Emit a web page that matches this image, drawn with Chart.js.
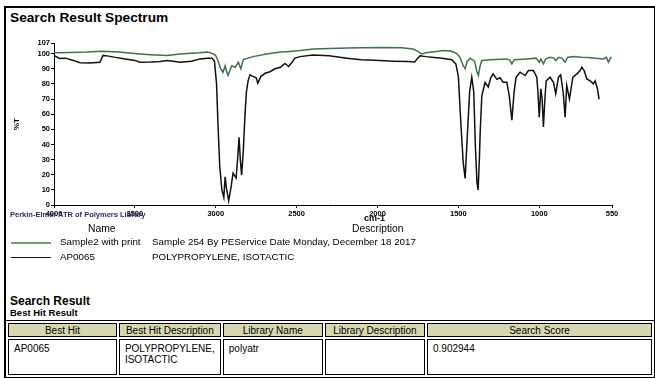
<!DOCTYPE html>
<html>
<head>
<meta charset="utf-8">
<script src="https://cdn.jsdelivr.net/npm/chart.js@4"></script>
<style>
  body { margin: 0; width: 655px; height: 378px; overflow: hidden; background: #fff;
         font-family: "Liberation Sans", Arial, sans-serif; color: #000; }
  #frame { position: absolute; left: 4px; top: 6px; width: 648px; height: 380px;
           border: 2px solid #000; border-bottom: none; }
  .t { position: absolute; white-space: nowrap; }
  #chart { position: absolute; left: 0; top: 0; }
  table { position: absolute; left: 5px; top: 320px; border-collapse: separate; border-spacing: 2px;
          border: 1px solid #000; font-size: 10px; }
  th { background: #d8d7b2; border: 1px solid #000; font-weight: normal; padding: 0 2px; height: 12px; }
  td { border: 1px solid #000; padding: 3px 5px; vertical-align: top; height: 28px; }
</style>
</head>
<body>
<div id="frame"></div>
<div class="t" style="left:10px;top:10px;font-weight:bold;font-size:13.7px;">Search Result Spectrum</div>
<canvas id="chart" width="655" height="230"></canvas>
<div class="t" style="left:10px;top:210px;font-weight:bold;font-size:7.5px;color:#2a2a6e;">Perkin-Elmer ATR of Polymers Library</div>
<div class="t" style="left:364px;top:213px;font-weight:bold;font-size:9px;">cm-1</div>
<div class="t" style="left:88px;top:223px;font-size:10.3px;">Name</div>
<div class="t" style="left:352px;top:223px;font-size:10.3px;">Description</div>
<div class="t" style="left:11px;top:242px;width:40px;height:2px;background:#7d9a7d;"></div>
<div class="t" style="left:60px;top:236px;font-size:9.8px;">Sample2 with print</div>
<div class="t" style="left:152px;top:236px;font-size:9.8px;">Sample 254 By PEService Date Monday, December 18 2017</div>
<div class="t" style="left:11px;top:257px;width:40px;height:1px;background:#111;"></div>
<div class="t" style="left:60px;top:251px;font-size:9.8px;">AP0065</div>
<div class="t" style="left:152px;top:251px;font-size:9.8px;">POLYPROPYLENE, ISOTACTIC</div>
<div class="t" style="left:10px;top:294px;font-weight:bold;font-size:12px;">Search Result</div>
<div class="t" style="left:10px;top:307px;font-weight:bold;font-size:9.5px;">Best Hit Result</div>
<table>
  <tr><th style="width:104px">Best Hit</th><th style="width:95px">Best Hit Description</th>
      <th style="width:95px">Library Name</th><th style="width:95px">Library Description</th>
      <th style="width:222px">Search Score</th></tr>
  <tr><td>AP0065</td><td>POLYPROPYLENE,<br>ISOTACTIC</td><td>polyatr</td><td></td><td>0.902944</td></tr>
</table>
<script>
// axis ticks
const xTicks = [4000, 3500, 3000, 2500, 2000, 1500, 1000, 550];
const yTicks = [0, 10, 20, 30, 40, 50, 60, 70, 80, 90, 100, 107];

// Sample2 with print (green)
const sampleWn = [4000, 3900, 3800, 3700, 3600, 3468, 3400, 3301, 3221, 3100, 3050, 3017, 3000, 2985, 2970,
  2955, 2942, 2935, 2924, 2912, 2901, 2880, 2860, 2845, 2829, 2800, 2769, 2685, 2600, 2561, 2479, 2398,
  2188, 1984, 1850, 1779, 1750, 1726, 1700, 1675, 1620, 1594, 1540, 1508, 1490, 1470, 1458, 1445, 1427,
  1400, 1385, 1376, 1365, 1355, 1300, 1200, 1180, 1169, 1155, 1077, 1020, 999, 990, 974, 960, 933, 910,
  898, 880, 860, 840, 825, 789, 740, 700, 650, 603, 585, 572, 560, 551];
const sampleT = [100.5, 100.8, 101, 101.5, 101, 99.8, 99.3, 98.7, 99.8, 100.5, 101, 100, 98.7, 95, 90,
  87.7, 92, 89, 85.5, 89, 92, 91, 94.3, 90, 96, 97, 98, 99.8, 101, 101.3, 102, 103,
  103.7, 104, 103.8, 103, 101.5, 99.8, 100.5, 100.9, 101.5, 102, 101.5, 99.8, 97.5, 92, 90, 95, 97,
  95, 88, 85.5, 92, 95.4, 96, 96.5, 95.5, 93.2, 96, 96.5, 97, 94.3, 96.5, 93.2, 96.5, 97.6, 97,
  95.4, 97.5, 97, 94.3, 97.5, 98, 97.6, 97.5, 97, 96.5, 97.5, 94.3, 97, 97.6];

// AP0065 library spectrum (black)
const libWn = [3995, 3965, 3930, 3880, 3839, 3780, 3716, 3697, 3672, 3620, 3560, 3500, 3468, 3400, 3344,
  3301, 3250, 3221, 3150, 3097, 3050, 3023, 3008, 2995, 2985, 2975, 2962, 2950, 2942, 2935, 2920, 2905,
  2893, 2874, 2865, 2856, 2848, 2840, 2830, 2819, 2810, 2800, 2788, 2770, 2750, 2740, 2720, 2695, 2665,
  2633, 2600, 2571, 2550, 2530, 2510, 2479, 2400, 2300, 2188, 2100, 1984, 1900, 1810, 1770, 1755, 1737,
  1700, 1650, 1600, 1540, 1515, 1500, 1485, 1470, 1458, 1445, 1430, 1417, 1405, 1395, 1385, 1378, 1370,
  1365, 1355, 1335, 1315, 1300, 1285, 1262, 1242, 1223, 1200, 1185, 1169, 1155, 1143, 1118, 1087, 1067,
  1036, 1015, 1008, 1000, 990, 982, 974, 965, 957, 933, 912, 898, 881, 867, 851, 840, 830, 813, 792, 767,
  747, 737, 722, 706, 685, 665, 654, 640, 630];
const libT = [98.5, 96.8, 97, 95.5, 94, 93.8, 94.3, 98.8, 98.5, 97.5, 96.5, 95.5, 94.3, 94.5, 94.8,
  95.4, 94.8, 94.3, 95, 96.5, 97, 97, 95, 80, 50, 25, 10, 5, 18.6, 12, 2.8, 12,
  21, 17.8, 30, 44.7, 30, 19.7, 35, 60, 75, 82, 86, 85, 84, 80.5, 85, 87, 88,
  90, 91, 93.5, 91.5, 94, 97, 98, 99, 98.5, 97, 96, 95.4, 95, 94.7, 94.5, 96.5, 98.5,
  98, 97.5, 97, 96, 93, 85, 55, 28, 17.5, 45, 75, 84.4, 75, 40, 15, 9.9, 30,
  48, 72, 81, 78, 84, 86.6, 83, 84, 81, 81, 72, 56, 75, 84.4, 87.7, 85.5, 88.8,
  88.8, 84.4, 75, 58, 76.8, 70, 51.5, 70, 82, 84.4, 81, 73.5, 84.4, 86, 73.5, 58, 79, 70, 84.4, 86.6,
  88.8, 91, 88.8, 83.3, 82, 80, 82, 76.8, 70];

const toPts = (xs, ys) => xs.map((x, i) => ({ x: x, y: ys[i] }));
const tickFont = { family: '"Liberation Sans", Arial, sans-serif', size: 7.5, weight: 'bold' };

new Chart(document.getElementById('chart'), {
  type: 'line',
  data: {
    datasets: [
      { label: 'Sample2 with print', data: toPts(sampleWn, sampleT), borderColor: '#3f7347',
        borderWidth: 1.5, pointRadius: 0, tension: 0 },
      { label: 'AP0065', data: toPts(libWn, libT), borderColor: '#111',
        borderWidth: 1.5, pointRadius: 0, tension: 0 }
    ]
  },
  options: {
    responsive: false,
    animation: false,
    layout: { padding: { left: 0, top: 43, right: 43, bottom: 0 } },
    plugins: { legend: { display: false }, tooltip: { enabled: false } },
    scales: {
      x: {
        type: 'linear', reverse: true, min: 550, max: 4000,
        afterBuildTicks: s => { s.ticks = xTicks.map(v => ({ value: v })); },
        afterFit: s => { s.height = 25; },
        ticks: { font: tickFont, color: '#000', padding: 1, maxRotation: 0, autoSkip: false,
                 callback: v => String(v) },
        grid: { drawOnChartArea: false, tickLength: 3, color: '#000' },
        border: { color: '#000', width: 1 }
      },
      y: {
        min: 0, max: 107,
        afterBuildTicks: s => { s.ticks = yTicks.map(v => ({ value: v })); },
        afterFit: s => { s.width = 54; },
        ticks: { font: tickFont, color: '#000', padding: 1, autoSkip: false, callback: v => String(v) },
        grid: { drawOnChartArea: false, tickLength: 3, color: '#000' },
        border: { color: '#000', width: 1 },
        title: { display: true, text: '%T', font: { family: '"Liberation Sans", Arial, sans-serif', size: 8, weight: 'bold' },
                 color: '#000', padding: { top: 12 } }
      }
    }
  }
});
</script>
</body>
</html>
